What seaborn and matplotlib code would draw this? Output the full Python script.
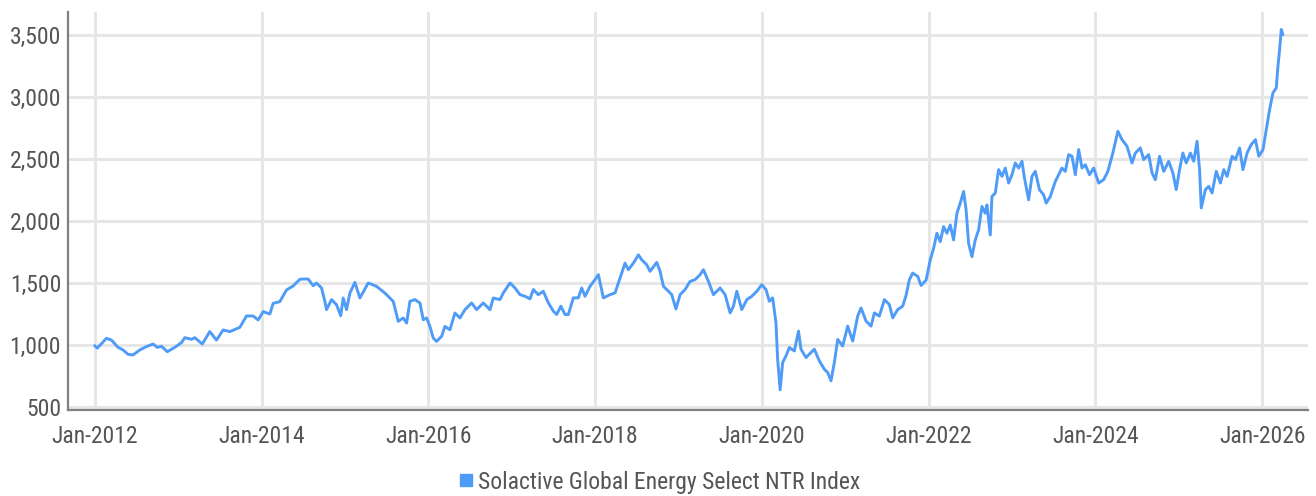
import numpy as np
import pandas as pd
import matplotlib
matplotlib.use("Agg")
import matplotlib.pyplot as plt
import matplotlib.dates as mdates
from matplotlib import font_manager
from matplotlib.lines import Line2D
import seaborn as sb

# readings taken off the reference chart (decimal year, index level)
decimal_year = [
    2012.00, 2012.03, 2012.08, 2012.14, 2012.20, 2012.28, 2012.34, 2012.40, 2012.46, 2012.54,
    2012.62, 2012.70, 2012.75, 2012.80, 2012.87, 2012.96, 2013.04, 2013.08, 2013.16, 2013.20,
    2013.29, 2013.38, 2013.46, 2013.54, 2013.62, 2013.74, 2013.82, 2013.90, 2013.96, 2014.02,
    2014.10, 2014.14, 2014.22, 2014.30, 2014.38, 2014.46, 2014.50, 2014.56, 2014.62, 2014.66,
    2014.72, 2014.76, 2014.78, 2014.84, 2014.90, 2014.95, 2014.98, 2015.02, 2015.06, 2015.12,
    2015.18, 2015.28, 2015.38, 2015.48, 2015.58, 2015.64, 2015.70, 2015.74, 2015.78, 2015.84,
    2015.90, 2015.94, 2015.98, 2016.02, 2016.06, 2016.10, 2016.16, 2016.20, 2016.26, 2016.32,
    2016.38, 2016.44, 2016.52, 2016.58, 2016.66, 2016.74, 2016.78, 2016.86, 2016.90, 2016.98,
    2017.04, 2017.10, 2017.16, 2017.22, 2017.26, 2017.32, 2017.38, 2017.44, 2017.50, 2017.54,
    2017.59, 2017.64, 2017.68, 2017.74, 2017.80, 2017.84, 2017.88, 2017.94, 2018.00, 2018.04,
    2018.10, 2018.18, 2018.24, 2018.30, 2018.36, 2018.40, 2018.46, 2018.52, 2018.56, 2018.62,
    2018.66, 2018.74, 2018.78, 2018.82, 2018.86, 2018.92, 2018.97, 2019.02, 2019.08, 2019.14,
    2019.20, 2019.26, 2019.30, 2019.36, 2019.42, 2019.50, 2019.56, 2019.62, 2019.66, 2019.70,
    2019.76, 2019.82, 2019.88, 2019.94, 2020.00, 2020.05, 2020.09, 2020.13, 2020.17, 2020.19,
    2020.22, 2020.25, 2020.29, 2020.33, 2020.39, 2020.44, 2020.47, 2020.53, 2020.59, 2020.63,
    2020.69, 2020.75, 2020.79, 2020.83, 2020.87, 2020.91, 2020.97, 2021.03, 2021.09, 2021.15,
    2021.19, 2021.25, 2021.31, 2021.35, 2021.41, 2021.47, 2021.53, 2021.57, 2021.63, 2021.69,
    2021.73, 2021.77, 2021.81, 2021.87, 2021.91, 2021.97, 2022.02, 2022.06, 2022.10, 2022.14,
    2022.18, 2022.22, 2022.26, 2022.30, 2022.34, 2022.38, 2022.42, 2022.45, 2022.48, 2022.52,
    2022.56, 2022.60, 2022.64, 2022.68, 2022.70, 2022.74, 2022.76, 2022.80, 2022.84, 2022.88,
    2022.92, 2022.96, 2023.00, 2023.04, 2023.08, 2023.12, 2023.15, 2023.20, 2023.24, 2023.28,
    2023.33, 2023.38, 2023.41, 2023.46, 2023.52, 2023.60, 2023.64, 2023.68, 2023.72, 2023.76,
    2023.80, 2023.84, 2023.88, 2023.93, 2023.98, 2024.04, 2024.10, 2024.15, 2024.21, 2024.27,
    2024.32, 2024.38, 2024.44, 2024.48, 2024.54, 2024.58, 2024.64, 2024.68, 2024.72, 2024.77,
    2024.82, 2024.88, 2024.93, 2024.97, 2025.01, 2025.05, 2025.09, 2025.14, 2025.18, 2025.22,
    2025.25, 2025.27, 2025.32, 2025.36, 2025.40, 2025.45, 2025.50, 2025.54, 2025.58, 2025.64,
    2025.68, 2025.73, 2025.77, 2025.82, 2025.87, 2025.92, 2025.96, 2026.01, 2026.05, 2026.09,
    2026.13, 2026.17, 2026.19, 2026.21, 2026.23, 2026.25,
]
index_level = [
    995, 975, 1010, 1054, 1040, 981, 960, 925, 920, 960,
    987, 1008, 981, 990, 946, 981, 1019, 1059, 1046, 1059,
    1008, 1108, 1040, 1121, 1108, 1142, 1234, 1234, 1202, 1269,
    1250, 1336, 1350, 1444, 1476, 1530, 1532, 1532, 1478, 1500,
    1460, 1352, 1285, 1366, 1325, 1236, 1379, 1285, 1419, 1505,
    1379, 1500, 1473, 1419, 1352, 1191, 1218, 1177, 1352, 1366,
    1339, 1204, 1218, 1150, 1056, 1029, 1070, 1150, 1123, 1258,
    1218, 1285, 1339, 1285, 1339, 1285, 1379, 1366, 1420, 1500,
    1460, 1406, 1393, 1372, 1447, 1406, 1433, 1340, 1273, 1246,
    1313, 1246, 1246, 1380, 1380, 1460, 1393, 1473, 1527, 1567,
    1380, 1406, 1420, 1540, 1660, 1607, 1660, 1727, 1687, 1647,
    1594, 1666, 1594, 1473, 1447, 1406, 1291, 1406, 1447, 1513,
    1527, 1567, 1607, 1513, 1406, 1460, 1406, 1259, 1313, 1433,
    1286, 1366, 1393, 1433, 1487, 1447, 1353, 1380, 1179, 885,
    639, 859, 912, 979, 952, 1112, 966, 899, 939, 966,
    872, 805, 778, 711, 859, 1045, 992, 1152, 1032, 1233,
    1299, 1193, 1152, 1259, 1233, 1366, 1326, 1219, 1286, 1313,
    1400, 1527, 1580, 1553, 1480, 1523, 1685, 1779, 1901, 1833,
    1955, 1901, 1968, 1847, 2063, 2144, 2238, 2090, 1820, 1712,
    1847, 1928, 2117, 2063, 2130, 1887, 2198, 2225, 2414, 2360,
    2427, 2306, 2373, 2468, 2427, 2481, 2346, 2171, 2360, 2400,
    2252, 2211, 2144, 2198, 2319, 2427, 2400, 2535, 2522, 2373,
    2576, 2427, 2454, 2373, 2427, 2306, 2333, 2400, 2548, 2723,
    2656, 2602, 2468, 2548, 2589, 2495, 2535, 2387, 2333, 2522,
    2400, 2481, 2387, 2253, 2414, 2548, 2468, 2548, 2481, 2643,
    2414, 2105, 2253, 2279, 2226, 2400, 2306, 2414, 2360, 2522,
    2495, 2589, 2414, 2548, 2616, 2656, 2522, 2575, 2737, 2898,
    3033, 3073, 3248, 3382, 3544, 3503,
]
series_name = "Solactive Global Energy Select NTR Index"
y_ticks = [500, 1000, 1500, 2000, 2500, 3000, 3500]
x_tick_years = [2012, 2014, 2016, 2018, 2020, 2022, 2024, 2026]

line_color = "#4f9bf8"
text_color = "#555555"


def to_date(yr):
    yr = np.asarray(yr, dtype=float)
    return pd.Timestamp("2012-01-01") + pd.to_timedelta((yr - 2012) * 365.25, unit="D")


df = pd.DataFrame({"date": to_date(decimal_year), "value": index_level})

# pick a narrow-ish face if one is around
installed = {f.name for f in font_manager.fontManager.ttflist}
prefs = ["Roboto Condensed", "Liberation Sans Narrow", "DejaVu Sans Condensed", "Roboto"]
face = next((p for p in prefs if p in installed), "DejaVu Sans")

sb.set_style("white")
plt.rcParams["font.family"] = [face, "DejaVu Sans"]

fig = plt.figure(figsize=(13.16, 4.96), dpi=100)
ax = fig.add_axes([0.0517, 0.1734, 0.9422, 0.8024])

sb.lineplot(data=df, x="date", y="value", ax=ax, color=line_color, linewidth=2.1)

ax.set_xlim(to_date(2011.68), to_date(2026.55))
ax.set_ylim(476, 3685)

ax.set_xticks([pd.Timestamp(f"{y}-01-01") for y in x_tick_years])
ax.xaxis.set_major_formatter(mdates.DateFormatter("%b-%Y"))
ax.set_yticks(y_ticks)
ax.set_yticklabels([f"{v:,}" for v in y_ticks])

ax.grid(True, color="#e6e6e6", linewidth=2.2)
ax.set_axisbelow(True)
ax.tick_params(axis="both", length=0, labelsize=17, colors=text_color)
ax.tick_params(axis="x", pad=11)
ax.tick_params(axis="y", pad=5)
ax.set_xlabel("")
ax.set_ylabel("")

for side in ["top", "right"]:
    ax.spines[side].set_visible(False)
for side in ["left", "bottom"]:
    ax.spines[side].set_color("#808080")
    ax.spines[side].set_linewidth(1.6)

handle = Line2D([], [], marker="s", linestyle="none", color=line_color, markersize=8)
fig.legend([handle], [series_name], loc="center", bbox_to_anchor=(0.5, 0.028),
           frameon=False, fontsize=17, labelcolor=text_color,
           handletextpad=0.1, handlelength=0.8)

fig.savefig("out.png", dpi=100)
